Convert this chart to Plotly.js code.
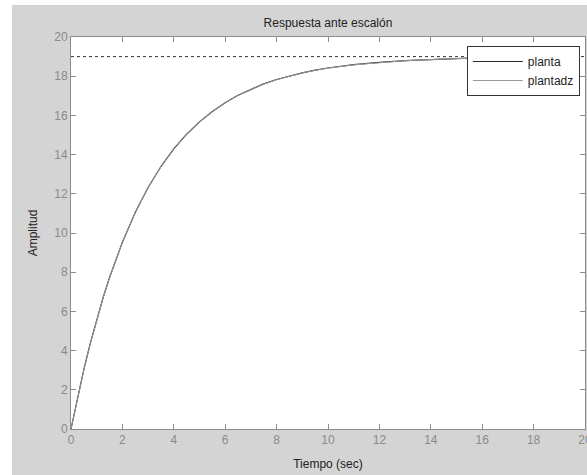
<!DOCTYPE html>
<html>
<head>
<meta charset="utf-8">
<script src="https://cdn.plot.ly/plotly-3.0.1.min.js"></script>
<style>html,body{margin:0;padding:0;background:#fff;}#chart{width:587px;height:475px;}</style>
</head>
<body>
<div id="chart"></div>
<script>
const tiempo = [0,0.25,0.5,0.75,1,1.25,1.5,1.75,2,2.5,3,3.5,4,4.5,5,5.5,6,6.5,7,7.5,8,8.5,9,9.5,10,11,12,13,14,15,15.5];
const planta = [0,1.59,3.04,4.37,5.59,6.71,7.73,8.67,9.53,11.05,12.32,13.39,14.29,15.04,15.67,16.2,16.65,17.03,17.34,17.61,17.83,18.02,18.17,18.31,18.42,18.59,18.71,18.79,18.86,18.9,18.92];
const plantadz = [0,1.57,3.02,4.35,5.57,6.7,7.72,8.66,9.52,11.04,12.31,13.38,14.28,15.03,15.66,16.19,16.64,17.02,17.33,17.6,17.82,18.01,18.17,18.3,18.41,18.58,18.7,18.79,18.85,18.9,18.92];
const finalX = [0,20];
const finalY = [19,19];
const xTicks = [0,2,4,6,8,10,12,14,16,18,20];
const yTicks = [0,2,4,6,8,10,12,14,16,18,20];

const traces = [
  {x: finalX, y: finalY, mode: 'lines', line: {color: '#333', width: 1, dash: '3px,3px'}, showlegend: false, hoverinfo: 'skip'},
  {x: tiempo, y: planta, mode: 'lines', name: 'planta', line: {color: '#2a2a2a', width: 1.2}},
  {x: tiempo, y: plantadz, mode: 'lines', name: 'plantadz', line: {color: '#9a9a9a', width: 1}}
];

const axisCommon = {
  showgrid: false, zeroline: false, showline: true, linecolor: '#8c8c8c', linewidth: 1,
  mirror: 'ticks', ticks: 'inside', ticklen: 5, tickcolor: '#8c8c8c', tickwidth: 1,
  ticklabeloverflow: 'allow',
  tickfont: {family: 'Liberation Sans, Arial, sans-serif', size: 12, color: '#8a8a8a'}
};

const layout = {
  width: 587, height: 475,
  margin: {l: 71, r: 2, t: 37, b: 46},
  paper_bgcolor: '#d4d4d4',
  plot_bgcolor: '#ffffff',
  font: {family: 'Liberation Sans, Arial, sans-serif', size: 12, color: '#222'},
  title: {text: 'Respuesta ante escalón', x: 0.5, xref: 'paper', xanchor: 'center', y: 1, yref: 'paper', yanchor: 'bottom', pad: {b: 10}, font: {size: 12, color: '#222'}},
  xaxis: Object.assign({}, axisCommon, {range: [0, 20], tickvals: xTicks, ticktext: xTicks.map(String), title: {text: 'Tiempo (sec)', standoff: 13, font: {size: 12, color: '#222'}}}),
  yaxis: Object.assign({}, axisCommon, {range: [0, 20], tickvals: yTicks, ticktext: yTicks.map(String), title: {text: 'Amplitud', standoff: 14, font: {size: 12, color: '#222'}}}),
  legend: {x: 0.99, xanchor: 'right', y: 0.977, yanchor: 'top', bgcolor: '#ffffff', bordercolor: '#333', borderwidth: 1, itemwidth: 50, font: {size: 12, color: '#222'}, tracegroupgap: 0},
  shapes: [
    {type: 'rect', xref: 'paper', yref: 'paper', x0: -0.2, x1: (12-71)/514, y0: -0.2, y1: 1.2, fillcolor: '#ffffff', line: {width: 0}, layer: 'below'},
    {type: 'rect', xref: 'paper', yref: 'paper', x0: -0.2, x1: 1.2, y0: 1 + 32/392, y1: 1.2, fillcolor: '#ffffff', line: {width: 0}, layer: 'below'}
  ]
};

Plotly.newPlot('chart', traces, layout, {displayModeBar: false, staticPlot: true});
</script>
</body>
</html>
